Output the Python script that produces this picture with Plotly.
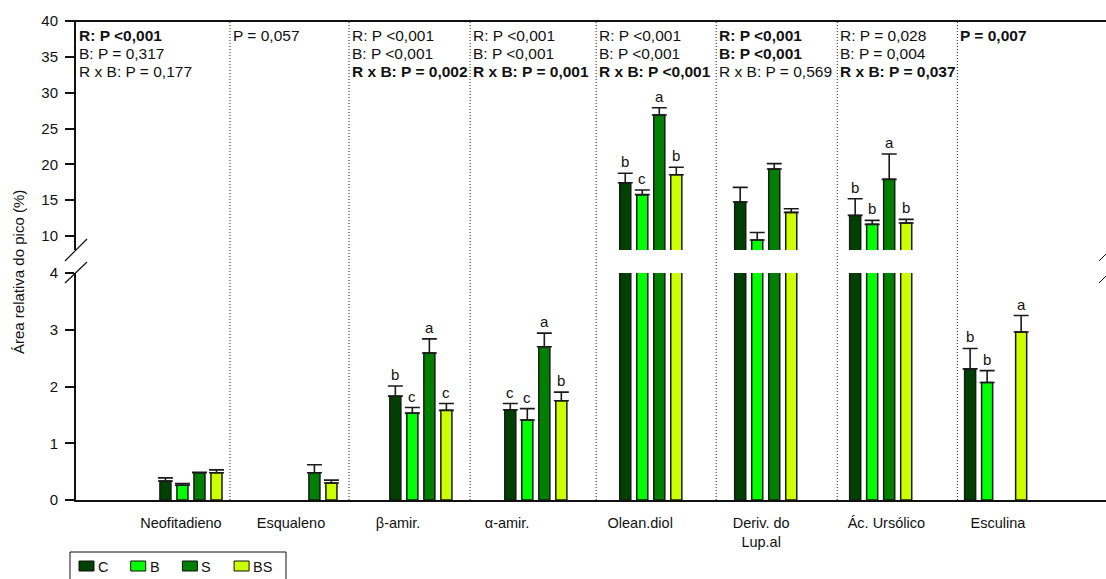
import plotly.graph_objects as go

# ---- data -------------------------------------------------------------
compounds = ["Neofitadieno", "Esqualeno", "β-amir.", "α-amir.", "Olean.diol",
             "Deriv. do<br>Lup.al", "Ác. Ursólico", "Esculina"]
series = ["C", "B", "S", "BS"]

mean_C = [0.335, None, 1.83, 1.59, 17.44, 14.74, 12.88, 2.31]
mean_B = [0.26, None, 1.53, 1.41, 15.77, 9.44, 11.63, 2.07]
mean_S = [0.48, 0.48, 2.59, 2.70, 26.88, 19.35, 17.91, None]
mean_BS = [0.48, 0.30, 1.58, 1.75, 18.55, 13.30, 11.81, 2.96]

se_C = [0.055, None, 0.18, 0.11, 1.31, 2.05, 2.32, 0.36]
se_B = [0.03, None, 0.10, 0.20, 0.65, 1.06, 0.56, 0.21]
se_S = [0.01, 0.14, 0.25, 0.24, 1.02, 0.75, 3.53, None]
se_BS = [0.05, 0.05, 0.12, 0.15, 1.05, 0.50, 0.52, 0.29]

letters_C = ["", "", "b", "c", "b", "", "b", "b"]
letters_B = ["", "", "c", "c", "c", "", "b", "b"]
letters_S = ["", "", "a", "a", "a", "", "a", ""]
letters_BS = ["", "", "c", "b", "b", "", "b", "a"]

# statistics text per compound: list of (line, bold)
stats = [
    [("R: P <0,001", True), ("B: P = 0,317", False), ("R x B: P = 0,177", False)],
    [("P = 0,057", False)],
    [("R: P <0,001", False), ("B: P <0,001", False), ("R x B: P = 0,002", True)],
    [("R: P <0,001", False), ("B: P <0,001", False), ("R x B: P = 0,001", True)],
    [("R: P <0,001", False), ("B: P <0,001", False), ("R x B: P <0,001", True)],
    [("R: P <0,001", True), ("B: P <0,001", True), ("R x B: P = 0,569", False)],
    [("R: P = 0,028", False), ("B: P = 0,004", False), ("R x B: P = 0,037", True)],
    [("P = 0,007", True)],
]

means = [mean_C, mean_B, mean_S, mean_BS]
ses = [se_C, se_B, se_S, se_BS]
letters = [letters_C, letters_B, letters_S, letters_BS]
colors = ["#004000", "#00ff00", "#008000", "#ccff00"]

# ---- layout constants -------------------------------------------------
FONT = "Arial, Liberation Sans, sans-serif"
INK = "#111"
W, H = 1106, 579
ML, MR, MT, MB = 76, 0, 21, 79
X_RANGE = [-1.0, 7.96]
BARGAP = 0.408
BARGROUPGAP = 0.35
LOW_RANGE = [0, 4]
HIGH_RANGE = [8.05, 40]
LOW_DOMAIN = [0, 0.4739]
HIGH_DOMAIN = [0.5219, 1]
separators = [0.339, 1.375, 2.428, 3.525, 4.569, 5.622, 6.667]
label_pos = [-0.087, 0.870, 1.802, 2.75, 3.908, 4.96, 6.049, 7.02]

PW, PH = W - ML - MR, H - MT - MB


def px(x):
    """pixel column -> paper x"""
    return (x - ML) / PW


def py(y):
    """pixel row -> paper y"""
    return (H - MB - y) / PH


xs = list(range(len(compounds)))
fig = go.Figure()

for k, name in enumerate(series):
    err = [s if s is not None else 0 for s in ses[k]]
    common = dict(
        x=xs, y=means[k], name=name, showlegend=False,
        marker=dict(color=colors[k], line=dict(color="#1a1a1a", width=1.5)),
        error_y=dict(type="data", array=err, arrayminus=[0] * len(err),
                     symmetric=False, color="#1a1a1a", thickness=1.6, width=7.5),
    )
    fig.add_trace(go.Bar(**common, yaxis="y"))
    fig.add_trace(go.Bar(**common, yaxis="y2"))

# significance letters above the error bars
slot = (1 - BARGAP) / len(series)
for k in range(len(series)):
    for i, lt in enumerate(letters[k]):
        if not lt or means[k][i] is None:
            continue
        top = means[k][i] + (ses[k][i] or 0)
        fig.add_annotation(
            x=i + (k - 1.5) * slot, y=top, yref="y" if top < LOW_RANGE[1] else "y2",
            xref="x", text=lt, showarrow=False, yanchor="bottom", yshift=1,
            font=dict(family=FONT, size=15, color=INK))

# statistics blocks at the top of each compound column
starts = [X_RANGE[0]] + separators
for i, block in enumerate(stats):
    for j, (t, b) in enumerate(block):
        fig.add_annotation(
            x=starts[i], xref="x", y=1, yref="paper",
            text=f"<b>{t}</b>" if b else t, showarrow=False,
            xanchor="left", yanchor="top", align="left", xshift=1, yshift=-4 - 18 * j,
            font=dict(family=FONT, size=15.5, color=INK))

shapes = []
# dotted column separators
for sx in separators:
    shapes.append(dict(type="line", xref="x", yref="paper", x0=sx, x1=sx, y0=0, y1=1,
                       line=dict(color="#222", width=1, dash="1px,2px")))
# top frame line
shapes.append(dict(type="line", xref="paper", yref="paper", x0=px(67), x1=1, y0=1, y1=1,
                   line=dict(color=INK, width=2)))
# axis break marks
for (x0, y0, x1, y1, w) in [(65, 261, 87, 239, 1.2), (65, 283, 87, 262, 1.2),
                            (1099, 261, 1110, 250, 1), (1099, 283, 1110, 272, 1)]:
    shapes.append(dict(type="line", xref="paper", yref="paper",
                       x0=px(x0), x1=px(x1), y0=py(y0), y1=py(y1),
                       line=dict(color=INK, width=w)))

# legend box with swatches
shapes.append(dict(type="rect", xref="paper", yref="paper",
                   x0=px(70), x1=px(286), y0=py(552), y1=py(590),
                   line=dict(color=INK, width=1), fillcolor="white", layer="below"))
for k, name in enumerate(series):
    sx0 = 79 + 51.7 * k
    shapes.append(dict(type="rect", xref="paper", yref="paper",
                       x0=px(sx0), x1=px(sx0 + 15), y0=py(561), y1=py(571),
                       line=dict(color=INK, width=1), fillcolor=colors[k]))
    fig.add_annotation(text=name, xref="paper", yref="paper", x=px(sx0 + 17), y=py(567),
                       xanchor="left", yanchor="middle", showarrow=False,
                       font=dict(family=FONT, size=14.5, color=INK))

fig.add_annotation(text="Área relativa do pico (%)", xref="paper", yref="paper",
                   x=px(18), y=py(272), xanchor="center", yanchor="middle",
                   textangle=-90, showarrow=False,
                   font=dict(family=FONT, size=15, color=INK))

yaxis_common = dict(showline=True, linecolor=INK, linewidth=2, ticks="outside",
                    ticklen=9, tickwidth=1.5, tickcolor=INK, showgrid=False,
                    zeroline=False, ticklabelstandoff=4, automargin=False,
                    tickfont=dict(family=FONT, size=15, color=INK))

fig.update_layout(
    width=W, height=H,
    margin=dict(l=ML, r=MR, t=MT, b=MB, autoexpand=False),
    paper_bgcolor="white", plot_bgcolor="white",
    barmode="group", bargap=BARGAP, bargroupgap=BARGROUPGAP,
    showlegend=False,
    xaxis=dict(range=X_RANGE, tickvals=label_pos, ticktext=compounds,
               showline=True, linecolor=INK, linewidth=2, ticks="",
               showgrid=False, zeroline=False, ticklabelstandoff=9, automargin=False,
               tickfont=dict(family=FONT, size=14.5, color=INK), anchor="y"),
    yaxis=dict(domain=LOW_DOMAIN, range=LOW_RANGE, tickvals=[0, 1, 2, 3, 4],
               anchor="x", **yaxis_common),
    yaxis2=dict(domain=HIGH_DOMAIN, range=HIGH_RANGE, tickvals=[10, 15, 20, 25, 30, 35, 40],
                anchor="x", **yaxis_common),
    shapes=shapes,
    font=dict(family=FONT, color=INK),
)

fig.write_html("out.html")
